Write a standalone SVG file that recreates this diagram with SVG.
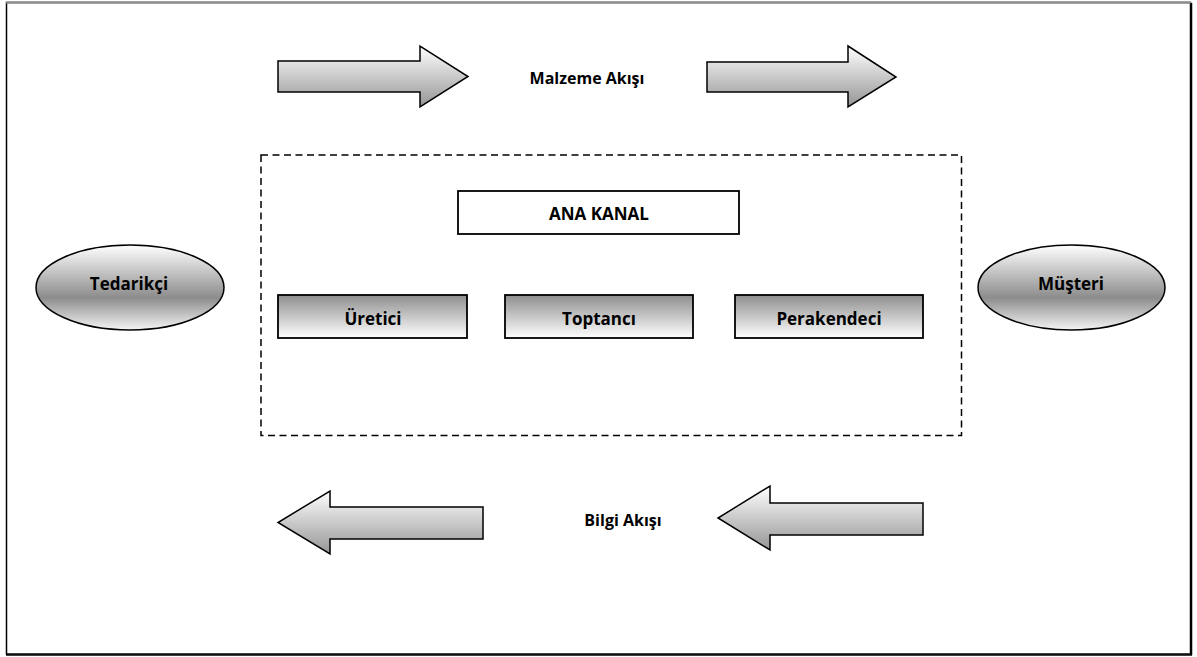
<svg xmlns="http://www.w3.org/2000/svg" width="1197" height="657" viewBox="0 0 1197 657">
  <style>
    .lbl { font-family: "Open Sans", "Liberation Sans", sans-serif; font-weight: bold; font-size: 17px; fill: #000; text-anchor: middle; dominant-baseline: central; }
    .flow { font-size: 16px; }
    .arrow { fill: url(#gArrow); stroke: #000; stroke-width: 1.5; stroke-linejoin: miter; }
    .stage { fill: url(#gStage); stroke: #000; stroke-width: 1.8; }
    .actor { fill: url(#gActor); stroke: #000; stroke-width: 1.5; }
  </style>
  <defs>
    <linearGradient id="gArrow" x1="0" y1="0" x2="0" y2="1">
      <stop offset="0" stop-color="#ffffff"/>
      <stop offset="1" stop-color="#959595"/>
    </linearGradient>
    <linearGradient id="gStage" x1="0" y1="0" x2="0" y2="1">
      <stop offset="0" stop-color="#8e8e8e"/>
      <stop offset="1" stop-color="#ffffff"/>
    </linearGradient>
    <linearGradient id="gActor" x1="0" y1="0" x2="0" y2="1">
      <stop offset="0" stop-color="#ffffff"/>
      <stop offset="0.62" stop-color="#8c8c8c"/>
      <stop offset="1" stop-color="#f4f4f4"/>
    </linearGradient>
  </defs>

  <rect width="1197" height="657" fill="#fff"/>

  <!-- outer frame -->
  <g id="frame">
    <rect x="6.5" y="2.5" width="1184" height="651.5" fill="none" stroke="#000" stroke-width="1.5"/>
    <line x1="6" y1="2.5" x2="1191" y2="2.5" stroke="#8a8a8a" stroke-width="2"/>
    <line x1="1191.5" y1="3" x2="1191.5" y2="655" stroke="#000" stroke-width="1.5"/>
    <line x1="6" y1="655" x2="1192" y2="655" stroke="#000" stroke-width="1.5"/>
  </g>

  <!-- flow arrows -->
  <g id="connectors">
    <polygon class="arrow" points="278,61 420,61 420,46 468,76.5 420,107 420,92 278,92"/>
    <polygon class="arrow" points="707,62 848,62 848,46 896,77 848,107 848,92 707,92"/>
    <polygon class="arrow" points="483,507 330,507 330,491 278,522.5 330,554 330,539 483,539"/>
    <polygon class="arrow" points="923,503 770,503 770,486 718,518 770,550 770,535 923,535"/>
  </g>

  <g id="flow-labels">
    <text class="lbl flow" x="587" y="78">Malzeme Akışı</text>
    <text class="lbl flow" x="623" y="520">Bilgi Akışı</text>
  </g>

  <!-- channel boundary -->
  <g id="channel">
    <rect x="261" y="155" width="700.5" height="280.5" fill="none" stroke="#000" stroke-width="1.5" stroke-dasharray="7,4.5"/>
  </g>

  <g id="ana-kanal">
    <rect x="458" y="191" width="281" height="43" fill="#fff" stroke="#000" stroke-width="1.8"/>
    <text class="lbl" x="599" y="213">ANA KANAL</text>
  </g>

  <g id="uretici">
    <rect class="stage" x="278" y="295" width="189" height="43"/>
    <text class="lbl" x="373" y="318">Üretici</text>
  </g>
  <g id="toptanci">
    <rect class="stage" x="505" y="295" width="188" height="43"/>
    <text class="lbl" x="599" y="318">Toptancı</text>
  </g>
  <g id="perakendeci">
    <rect class="stage" x="735" y="295" width="188" height="43"/>
    <text class="lbl" x="829" y="318">Perakendeci</text>
  </g>

  <g id="tedarikci">
    <ellipse class="actor" cx="130" cy="287.5" rx="94" ry="42.5"/>
    <text class="lbl" x="129" y="283">Tedarikçi</text>
  </g>
  <g id="musteri">
    <ellipse class="actor" cx="1071.5" cy="287.5" rx="93.5" ry="42.5"/>
    <text class="lbl" x="1071" y="283">Müşteri</text>
  </g>
</svg>
